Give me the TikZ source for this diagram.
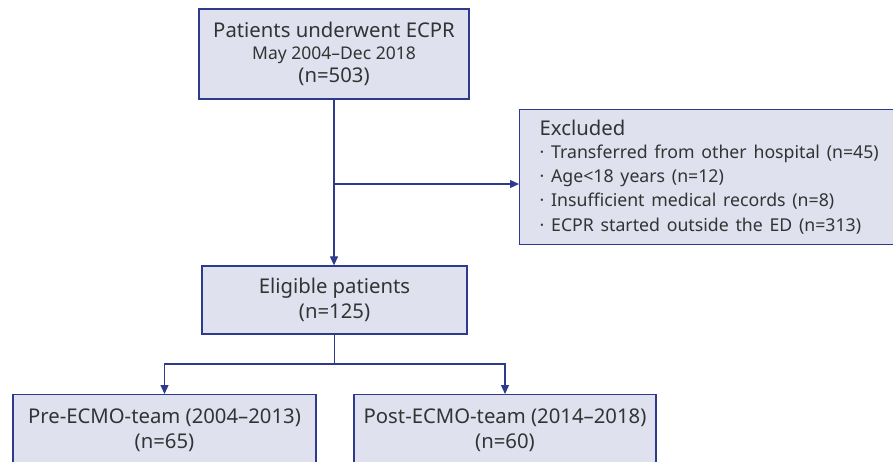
\documentclass[tikz,border=0pt]{standalone}
\usepackage{fontspec}
\setmainfont{Noto Sans}
\usetikzlibrary{arrows.meta}
\definecolor{boxfill}{HTML}{DFE1EE}
\definecolor{boxline}{HTML}{2E3A8C}
\definecolor{txt}{HTML}{333333}
\begin{document}
\begin{tikzpicture}[x=1pt,y=-1pt,
  box/.style={draw=boxline,fill=boxfill,line width=1.3pt,text=txt,inner sep=0pt,align=center},
  conn/.style={draw=boxline,line width=1.2pt},
  arr/.style={conn,-{Triangle[length=9pt,width=8pt]}},
  font=\fontsize{20.3}{25}\selectfont]
\useasboundingbox (0,0) rectangle (893,461);
\node[box,minimum width=270,minimum height=90] (top) at (334,54)
  {Patients underwent ECPR\\[-3pt]{\fontsize{17.5}{22}\selectfont May 2004–Dec 2018}\\[-2pt](n=503)};
\node[box,align=left,anchor=north west,minimum width=400,minimum height=135,text width=360] (excl) at (519,109)
  {Excluded\\[-1pt]
   {\fontsize{17.7}{24.3}\selectfont · Transferred from other hospital (n=45)\\
   · Age<18 years (n=12)\\
   · Insufficient medical records (n=8)\\
   · ECPR started outside the ED (n=313)}};
\node[box,minimum width=265,minimum height=68] (elig) at (334.5,300) {Eligible patients\\(n=125)};
\node[box,anchor=north,minimum width=303,minimum height=72] (pre) at (164.5,394) {Pre-ECMO-team (2004–2013)\\(n=65)};
\node[box,anchor=north,minimum width=302,minimum height=72] (post) at (505,394) {Post-ECMO-team (2014–2018)\\(n=60)};
\draw[arr] (top.south) -- (top.south |- elig.north);
\coordinate (j1) at (top.south |- 0,184);
\draw[arr] (j1) -- (j1 -| excl.west);
\coordinate (j2) at (elig.south |- 0,364);
\draw[conn] (elig.south) -- (j2);
\draw[arr] (j2) -| (pre.north);
\draw[arr] (j2) -| (post.north);
\end{tikzpicture}
\end{document}
